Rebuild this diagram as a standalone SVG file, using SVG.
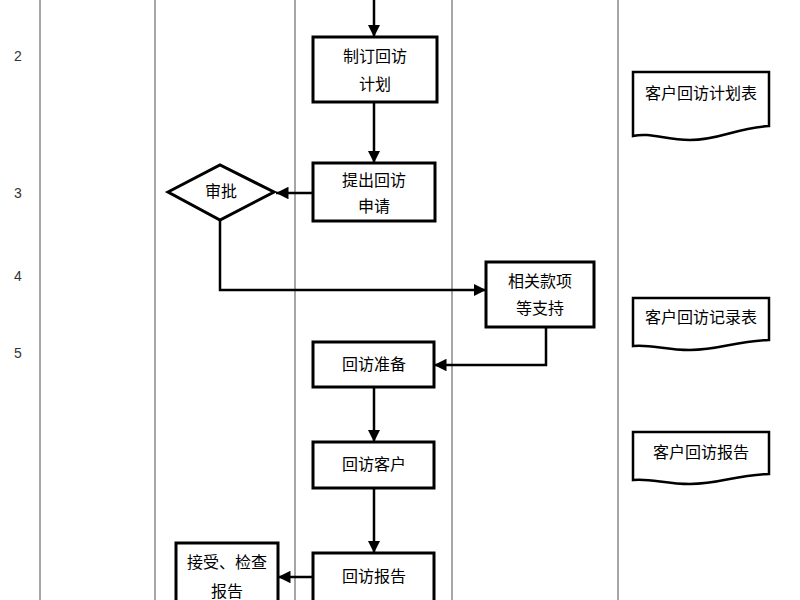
<svg xmlns="http://www.w3.org/2000/svg" width="800" height="600" viewBox="0 0 800 600">
<defs>
<marker id="ah" viewBox="0 0 10 10" refX="10" refY="5" markerWidth="5" markerHeight="5" orient="auto"><path d="M0,0 L10,5 L0,10 z" fill="#000"/></marker>
<style>
.lane{stroke:#888;stroke-width:1.5;fill:none}
.box{fill:#fff;stroke:#000;stroke-width:3}
.doc{fill:#fff;stroke:#000;stroke-width:2.5}
.t{font-family:"Noto Sans CJK SC","Liberation Sans",sans-serif;font-size:16px;fill:#000;text-anchor:middle}
.n{font-family:"Liberation Sans",sans-serif;font-size:14px;fill:#333;text-anchor:middle}
.c{stroke:#000;stroke-width:2.5;fill:none;marker-end:url(#ah)}
</style>
</defs>
<rect width="800" height="600" fill="#fff"/>
<g id="lanes">
<line class="lane" x1="40" y1="0" x2="40" y2="600"/>
<line class="lane" x1="155" y1="0" x2="155" y2="600"/>
<line class="lane" x1="295" y1="0" x2="295" y2="600"/>
<line class="lane" x1="452" y1="0" x2="452" y2="600"/>
<line class="lane" x1="618" y1="0" x2="618" y2="600"/>
</g>
<g id="rownums">
<text class="n" x="18" y="61">2</text>
<text class="n" x="18" y="198">3</text>
<text class="n" x="18" y="281">4</text>
<text class="n" x="18" y="358">5</text>
</g>
<g id="connectors">
<path class="c" d="M374,0 V37"/>
<path class="c" d="M374,102 V163"/>
<path class="c" d="M313,193 H276"/>
<path class="c" d="M220,220 V290 H486"/>
<path class="c" d="M546,327 V365 H434"/>
<path class="c" d="M374,387 V442"/>
<path class="c" d="M374,488 V553"/>
<path class="c" d="M313,577 H278"/>
</g>
<g id="n1"><rect class="box" x="313" y="37" width="124" height="65"/><text class="t" x="375" y="62">制订回访</text><text class="t" x="375" y="90">计划</text></g>
<g id="n2"><rect class="box" x="313" y="163" width="122" height="58"/><text class="t" x="374" y="186">提出回访</text><text class="t" x="374" y="212">申请</text></g>
<g id="n3"><polygon class="box" points="168,192 220,165 274,192 220,220"/><text class="t" x="221" y="197">审批</text></g>
<g id="n4"><rect class="box" x="486" y="262" width="108" height="65"/><text class="t" x="540" y="287">相关款项</text><text class="t" x="540" y="314">等支持</text></g>
<g id="n5"><rect class="box" x="313" y="342" width="121" height="45"/><text class="t" x="374" y="370">回访准备</text></g>
<g id="n6"><rect class="box" x="313" y="442" width="121" height="46"/><text class="t" x="374" y="470">回访客户</text></g>
<g id="n7"><rect class="box" x="313" y="553" width="121" height="60"/><text class="t" x="374" y="582">回访报告</text></g>
<g id="n8"><rect class="box" x="176" y="543" width="102" height="70"/><text class="t" x="227" y="568">接受、检查</text><text class="t" x="227" y="597">报告</text></g>
<g id="d1"><path class="doc" d="M633,72 H769 V126 C735,128 720,140 690,140 C665,140 650,132 633,136 Z"/><text class="t" x="701" y="99">客户回访计划表</text></g>
<g id="d2"><path class="doc" d="M633,298 H769 V340 C735,341 720,350 690,350 C665,350 650,344 633,346 Z"/><text class="t" x="701" y="323">客户回访记录表</text></g>
<g id="d3"><path class="doc" d="M633,432 H769 V474 C735,475 720,484 690,484 C665,484 650,478 633,480 Z"/><text class="t" x="701" y="458">客户回访报告</text></g>
</svg>
